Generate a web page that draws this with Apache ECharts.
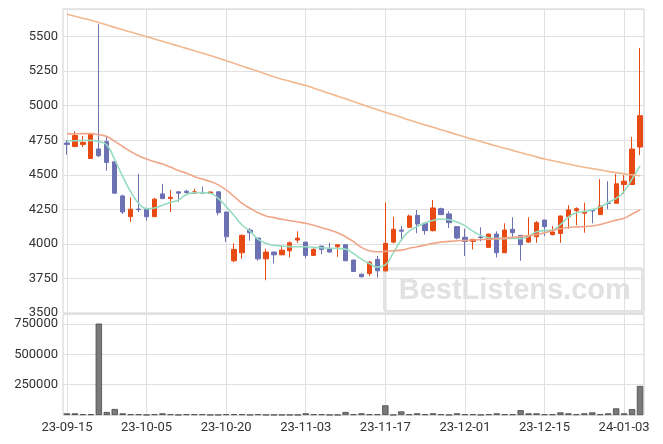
<!DOCTYPE html>
<html>
<head>
<meta charset="utf-8">
<script src="https://cdn.jsdelivr.net/npm/echarts@6/dist/echarts.min.js"></script>
<style>html,body{margin:0;padding:0;background:#fff}#c{width:663px;height:444px}</style>
</head>
<body>
<div id="c"></div>
<script>
const dates = ['23-09-15','23-09-18','23-09-19','23-09-20','23-09-21','23-09-22','23-09-25','23-09-26','23-09-27','23-10-04',
'23-10-05','23-10-06','23-10-10','23-10-11','23-10-12','23-10-13','23-10-16','23-10-17','23-10-18','23-10-19',
'23-10-20','23-10-23','23-10-24','23-10-25','23-10-26','23-10-27','23-10-30','23-10-31','23-11-01','23-11-02',
'23-11-03','23-11-06','23-11-07','23-11-08','23-11-09','23-11-10','23-11-13','23-11-14','23-11-15','23-11-16',
'23-11-17','23-11-20','23-11-21','23-11-22','23-11-23','23-11-24','23-11-27','23-11-28','23-11-29','23-11-30',
'23-12-01','23-12-04','23-12-05','23-12-06','23-12-07','23-12-08','23-12-11','23-12-12','23-12-13','23-12-14',
'23-12-15','23-12-18','23-12-19','23-12-20','23-12-21','23-12-22','23-12-26','23-12-27','23-12-28','24-01-02',
'24-01-03','24-01-04','24-01-05'];

const openV  = [4730,4705,4720,4618,4687,4740,4594,4347,4197,4252, 4251,4197,4362,4328,4377,4381,4367,4372,4365,4377,
4231,3878,3936,4100,4042,3892,3941,3921,3950,4028, 4013,3917,3984,3965,3979,3994,3883,3781,3786,3888,
3805,4013,4100,4120,4207,4149,4096,4255,4217,4125, 4048,4018,4050,3975,4071,3936,4106,4062,4013,4052,
4173,4067,4076,4197,4241,4222,4243,4212,4296,4294, 4430,4430,4701];
const closeV = [4720,4785,4735,4798,4638,4590,4367,4231,4251,4248, 4197,4324,4328,4338,4367,4372,4377,4368,4376,4226,
4052,3960,4062,4081,3892,3941,3921,3955,4008,4042, 3917,3960,3960,3941,3994,3878,3801,3762,3868,3805,
4004,4106,4092,4202,4144,4096,4260,4212,4154,4042, 4018,4033,4046,4071,3936,4100,4081,3994,4057,4154,
4125,4086,4202,4246,4255,4236,4239,4275,4292,4435, 4454,4686,4928];
const lowV   = [4645,4700,4700,4615,4628,4530,4365,4217,4159,4230, 4168,4195,4324,4231,4304,4362,4365,4362,4362,4207,
4013,3868,3892,4023,3878,3737,3859,3920,3902,4008, 3897,3915,3926,3938,3907,3876,3799,3758,3766,3757,
3800,4004,4023,4115,4077,4067,4090,4210,4115,4033, 3912,3960,4018,3973,3902,3934,4048,3878,4008,4008,
4057,4062,4008,4110,4135,4081,4149,4210,4251,4292, 4362,4428,4643];
const highV  = [4750,4815,4780,4800,5590,4775,4595,4357,4338,4507, 4255,4333,4435,4391,4380,4392,4400,4415,4378,4378,
4231,4004,4067,4115,4045,3965,3943,3989,4018,4091, 4015,3970,3986,4008,3996,3996,3885,3785,3878,3912,
4299,4197,4130,4212,4246,4155,4318,4262,4236,4128, 4110,4036,4120,4073,4091,4149,4193,4065,4193,4165,
4175,4130,4205,4280,4265,4299,4246,4469,4454,4507, 4498,4774,5417];

const ma5 = [4745,4747,4748,4749,4740,4716,4609,4488,4379,4294, 4255,4260,4280,4300,4318,4358,4370,4372,4366,4330,
4270,4205,4137,4092,4035,4004,3990,3984,3980,3979, 3979,3975,3972,3969,3967,3962,3930,3890,3858,3832,
3848,3935,4028,4092,4125,4152,4170,4180,4175,4158, 4132,4092,4060,4045,4038,4038,4040,4038,4055,4088,
4096,4100,4140,4195,4225,4234,4248,4268,4300,4330, 4380,4470,4565];
const ma20 = [4796,4797,4798,4798,4790,4778,4742,4705,4669,4638, 4614,4594,4578,4556,4531,4512,4488,4469,4451,4427,
4391,4343,4294,4258,4226,4202,4190,4178,4168,4159, 4149,4135,4117,4100,4081,4052,4016,3975,3950,3943,
3946,3950,3955,3968,3979,3992,4004,4013,4018,4023, 4025,4028,4032,4034,4038,4042,4047,4053,4060,4068,
4080,4096,4110,4119,4123,4125,4130,4140,4157,4172, 4186,4217,4246];
const maLong = [5662,5648,5633,5618,5602,5585,5567,5550,5533,5517, 5500,5483,5466,5449,5432,5415,5398,5381,5364,5345,
5326,5307,5287,5268,5249,5229,5209,5192,5177,5161, 5146,5127,5108,5088,5069,5050,5030,5010,4991,4971,
4952,4934,4916,4897,4879,4861,4844,4826,4809,4791, 4774,4757,4741,4724,4708,4692,4677,4661,4645,4630,
4614,4602,4590,4578,4566,4555,4545,4535,4525,4516, 4507,4500,4493];

const volume = [14000,14000,6000,6000,755000,25000,50000,14000,6000,6000, 1500,6000,14000,6000,1500,6000,6000,6000,1500,1500,
6000,6000,6000,1500,6000,1500,1500,1500,1500,1500, 14000,6000,6000,1500,1500,25000,6000,14000,6000,6000,
80000,1500,30000,6000,14000,6000,14000,6000,1500,14000, 6000,6000,1500,6000,14000,6000,6000,40000,14000,14000,
6000,6000,22000,14000,6000,14000,22000,6000,14000,55000, 14000,49000,240000];

const priceTicks = {min: 3500, max: 5700, step: 250, shownMax: 5500};
const volTicks = {min: 0, max: 830000, step: 250000, shownMin: 250000, shownMax: 750000};

const candles = dates.map((d, i) => [openV[i], closeV[i], lowV[i], highV[i]]);

const FONT = 'Roboto';
const chart = echarts.init(document.getElementById('c'), null, {renderer: 'canvas'});
const gridLine = {show: true, lineStyle: {color: '#e0e0e0', width: 1}};
const vSplit = {show: true, interval: 9, alignWithLabel: true, lineStyle: {color: '#e0e0e0', width: 1}};
const labelFmt = (lo, hi) => (v) => (v >= lo && v <= hi) ? String(Math.round(v)) : '';
chart.setOption({
  animation: false,
  grid: [
    {left: 63, right: 19, top: 9, height: 304, show: true, borderColor: '#d0d0d0', borderWidth: 1},
    {left: 63, right: 19, top: 314.5, height: 100.5, show: true, borderColor: '#d0d0d0', borderWidth: 1}
  ],
  xAxis: [
    {type: 'category', data: dates, gridIndex: 0, boundaryGap: true,
     axisLine: {show: false}, axisTick: {show: false, interval: 9, alignWithLabel: true},
     axisLabel: {show: false, interval: 9}, splitLine: vSplit},
    {type: 'category', data: dates, gridIndex: 1, boundaryGap: true,
     axisLine: {show: false}, axisTick: {show: false, interval: 9, alignWithLabel: true},
     axisLabel: {interval: 9, fontSize: 13, color: '#333', margin: 6, fontFamily: FONT},
     splitLine: vSplit}
  ],
  yAxis: [
    {type: 'value', gridIndex: 0, min: priceTicks.min, max: priceTicks.max, interval: priceTicks.step,
     axisLine: {show: false}, axisTick: {show: false},
     axisLabel: {fontSize: 13, color: '#333', margin: 5, fontFamily: FONT, hideOverlap: false,
       formatter: labelFmt(priceTicks.min, priceTicks.shownMax)},
     splitLine: gridLine},
    {type: 'value', gridIndex: 1, min: volTicks.min, max: volTicks.max, interval: volTicks.step,
     axisLine: {show: false}, axisTick: {show: false},
     axisLabel: {fontSize: 13, color: '#333', margin: 5, fontFamily: FONT, hideOverlap: false,
       formatter: labelFmt(volTicks.shownMin, volTicks.shownMax)},
     splitLine: gridLine}
  ],
  series: [
    {type: 'candlestick', xAxisIndex: 0, yAxisIndex: 0, data: candles, barWidth: '60%',
     itemStyle: {color: '#e84a14', color0: '#6c71b4', borderColor: '#e84a14', borderColor0: '#6c71b4', borderWidth: 1}},
    {type: 'line', xAxisIndex: 0, yAxisIndex: 0, data: ma5, smooth: true, symbol: 'none',
     lineStyle: {color: '#95dcc1', width: 1.6}},
    {type: 'line', xAxisIndex: 0, yAxisIndex: 0, data: ma20, smooth: true, symbol: 'none',
     lineStyle: {color: '#efa688', width: 1.6}},
    {type: 'line', xAxisIndex: 0, yAxisIndex: 0, data: maLong, smooth: true, symbol: 'none',
     lineStyle: {color: '#f1b88f', width: 1.6}},
    {type: 'bar', xAxisIndex: 1, yAxisIndex: 1, data: volume, barWidth: '80%',
     itemStyle: {color: '#7a7a7a', borderColor: '#4a4a4a', borderWidth: 0.8}}
  ],
  graphic: [
    {type: 'group', left: 383, top: 267, z: 100, children: [
      {type: 'rect', shape: {x: 0, y: 0, width: 258, height: 43, r: 3},
       style: {fill: 'rgba(255,255,255,0.35)', stroke: '#e4e4e4', lineWidth: 3.5}},
      {type: 'text', style: {text: 'BestListens.com', x: 130, y: 22, align: 'center', verticalAlign: 'middle',
        fontSize: 29, fontWeight: 'bold', fontFamily: '"Liberation Sans", Arial, sans-serif', fill: '#e2e2e2'}}
    ]}
  ]
});
</script>
</body>
</html>
